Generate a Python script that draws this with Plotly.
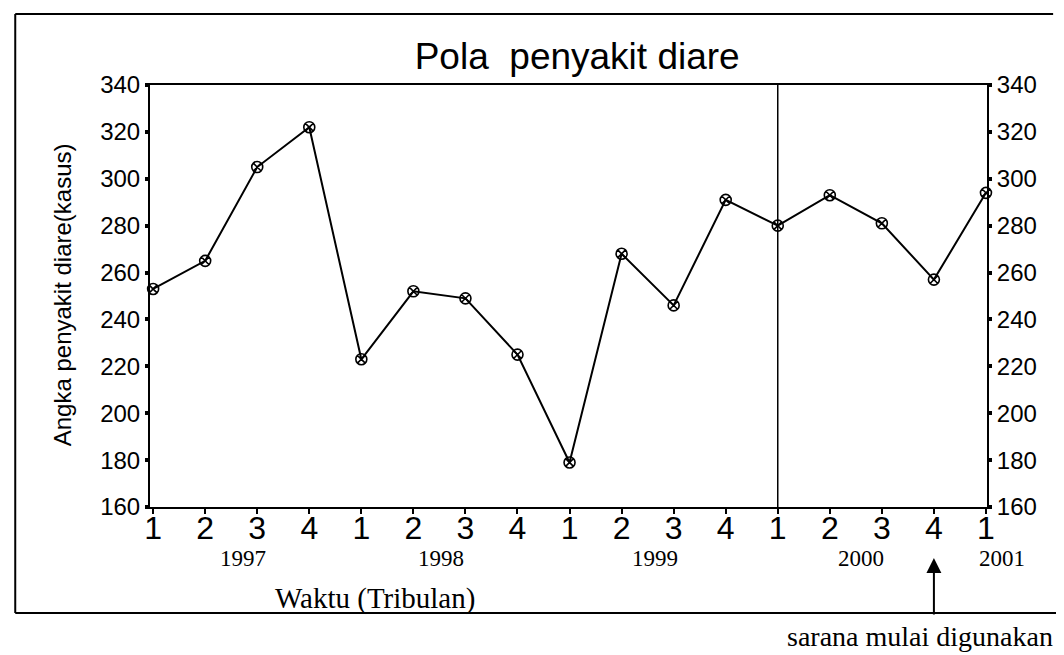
import plotly.graph_objects as go

# data
quarter = list(range(1, 18))
quarter_labels = ["1", "2", "3", "4"] * 4 + ["1"]
cases = [253, 265, 305, 322, 223, 252, 249, 225, 179,
         268, 246, 291, 280, 293, 281, 257, 294]
years = ["1997", "1998", "1999", "2000"]
year_pos = [2.73, 6.53, 10.64, 14.6]
last_year = "2001"
y_ticks = list(range(160, 341, 20))

sans = "Liberation Sans Narrow, Arial Narrow, Liberation Sans, Arial"
serif = "Liberation Serif, Times New Roman, serif"

fig = go.Figure()
fig.add_trace(go.Scatter(
    x=quarter, y=cases, mode="lines+markers",
    line=dict(color="black", width=2),
    marker=dict(symbol="circle-x-open", size=11, color="black",
                line=dict(width=1.6, color="black")),
    showlegend=False, cliponaxis=False))
# invisible twin for the right axis
fig.add_trace(go.Scatter(x=quarter, y=cases, yaxis="y2", mode="lines",
                         line=dict(width=0), hoverinfo="skip", showlegend=False))

axis_font = dict(family=sans, size=24, color="black")
# page body adds 8px, so the figure is 8px smaller than the window
fig.update_layout(
    width=1056, height=647,
    margin=dict(l=142, r=77, t=77, b=148),
    paper_bgcolor="white", plot_bgcolor="white",
    title=dict(text="Pola  penyakit diare", x=0.539, xanchor="center",
               y=0.925, yanchor="middle",
               font=dict(family="Liberation Sans, Arial", size=37, color="black")),
    xaxis=dict(range=[0.94, 17.02], tickvals=quarter, ticktext=quarter_labels,
               showgrid=False, zeroline=False, showline=True, linecolor="black",
               linewidth=2, mirror=True, ticks="outside", ticklen=5, tickwidth=2,
               tickcolor="black", ticklabelstandoff=-13,
               tickfont=dict(family="Liberation Sans, Arial", size=32, color="black")),
    yaxis=dict(range=[160, 340], tickvals=y_ticks, showgrid=False, zeroline=False,
               showline=True, linecolor="black", linewidth=2,
               ticks="outside", ticklen=3, tickwidth=4, tickcolor="black",
               tickfont=axis_font),
    yaxis2=dict(range=[160, 340], tickvals=y_ticks, overlaying="y", side="right",
                showgrid=False, zeroline=False, showline=True, linecolor="black",
                linewidth=2, ticks="outside", ticklen=3, tickwidth=4,
                tickcolor="black", tickfont=axis_font),
)

# vertical marker at 2000 Q1
fig.add_shape(type="line", xref="x", yref="paper", x0=13, x1=13, y0=0, y1=1,
              line=dict(color="black", width=1.5))

# outer frame of the scan (top, left, bottom)
frame = dict(color="black", width=2)
fig.add_shape(type="line", xref="paper", yref="paper", x0=-0.161, x1=1.079,
              y0=1.168, y1=1.168, line=frame)
fig.add_shape(type="line", xref="paper", yref="paper", x0=-0.161, x1=-0.161,
              y0=1.168, y1=-0.251, line=frame)
fig.add_shape(type="line", xref="paper", yref="paper", x0=-0.161, x1=1.095,
              y0=-0.251, y1=-0.251, line=frame)

year_font = dict(family=serif, size=23, color="black")
for yr, xp in zip(years, year_pos):
    fig.add_annotation(x=xp, y=-0.121, xref="x", yref="paper", text=yr,
                       xanchor="center", yanchor="middle", showarrow=False,
                       font=year_font)
# 2001 sits past the axis end, so place it in paper units
fig.add_annotation(x=1.018, y=-0.121, xref="paper", yref="paper", text=last_year,
                   xanchor="center", yanchor="middle", showarrow=False,
                   font=year_font)

fig.add_annotation(x=0.269, y=-0.216, xref="paper", yref="paper",
                   xanchor="center", yanchor="middle",
                   text="Waktu (Tribulan)", showarrow=False,
                   font=dict(family=serif, size=29, color="black"))

fig.add_annotation(x=-0.105, y=0.502, xref="paper", yref="paper", textangle=-90,
                   xanchor="center", yanchor="middle",
                   text="Angka penyakit diare(kasus)", showarrow=False,
                   font=dict(family=sans, size=24, color="black"))

# arrow pointing at 2000 Q4
fig.add_annotation(x=16, y=-0.121, xref="x", yref="paper", text="",
                   showarrow=True, arrowhead=2, arrowsize=1.5, arrowwidth=2,
                   arrowcolor="black", ax=0, ay=58)
fig.add_annotation(x=0.92, y=-0.308, xref="paper", yref="paper",
                   xanchor="center", yanchor="middle",
                   text="sarana mulai digunakan", showarrow=False,
                   font=dict(family=serif, size=28, color="black"))

fig.write_html("out.html")
